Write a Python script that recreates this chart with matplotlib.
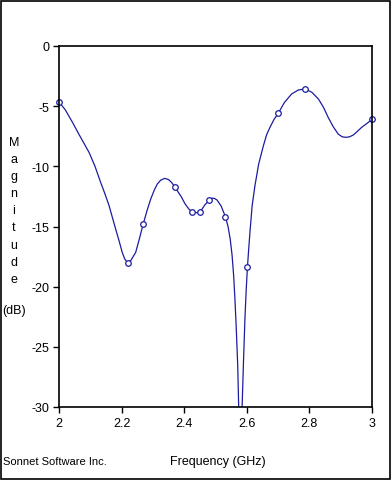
import matplotlib
matplotlib.use("Agg")
import matplotlib.pyplot as plt
from matplotlib.patches import Rectangle

plt.rcParams["font.family"] = ["Liberation Sans", "DejaVu Sans"]

# curve (GHz, dB)
freq = [2.000, 2.020, 2.043, 2.065, 2.096, 2.115, 2.133, 2.147, 2.160, 2.170,
        2.181, 2.192, 2.202, 2.210, 2.220, 2.230, 2.245, 2.257, 2.269, 2.281,
        2.293, 2.304, 2.314, 2.325, 2.338, 2.350, 2.360, 2.371, 2.390, 2.403,
        2.415, 2.426, 2.440, 2.452, 2.466, 2.480, 2.488, 2.496, 2.505, 2.518,
        2.532, 2.540, 2.547, 2.553, 2.558, 2.562, 2.566, 2.571, 2.575, 2.579,
        2.585, 2.589, 2.594, 2.598, 2.602, 2.606, 2.610, 2.617, 2.626, 2.638,
        2.653, 2.663, 2.674, 2.687, 2.701, 2.720, 2.743, 2.765, 2.787, 2.808,
        2.829, 2.845, 2.860, 2.876, 2.892, 2.905, 2.917, 2.928, 2.940, 2.953,
        2.967, 2.983, 3.000]
mag = [-4.65, -5.30, -6.34, -7.40, -8.84, -10.00, -11.33, -12.30, -13.27, -14.20,
       -15.21, -16.20, -17.15, -17.70, -18.04, -17.80, -17.15, -16.00, -14.80, -13.70,
       -12.72, -12.00, -11.47, -11.15, -11.00, -11.10, -11.35, -11.75, -12.50, -13.13,
       -13.55, -13.83, -13.85, -13.75, -13.20, -12.83, -12.65, -12.66, -12.80, -13.30,
       -14.21, -15.00, -16.04, -17.40, -19.09, -21.00, -23.25, -26.57, -31.0, -36.0,
       -30.0, -26.57, -22.70, -20.30, -18.40, -16.90, -15.49, -13.30, -11.61, -9.80,
       -8.29, -7.40, -6.76, -6.10, -5.57, -4.70, -3.99, -3.65, -3.57, -3.85,
       -4.41, -5.10, -5.93, -6.70, -7.32, -7.55, -7.59, -7.55, -7.40, -7.10,
       -6.76, -6.45, -6.10]

# simulated (marked) points
pt_freq = [2.000, 2.221, 2.269, 2.372, 2.426, 2.452, 2.480, 2.531, 2.602, 2.701, 2.787, 3.000]
pt_mag = [-4.65, -18.04, -14.82, -11.72, -13.83, -13.83, -12.83, -14.24, -18.40, -5.57, -3.60, -6.09]

xticks = [2, 2.2, 2.4, 2.6, 2.8, 3]
xtick_labels = ["2", "2.2", "2.4", "2.6", "2.8", "3"]
yticks = [0, -5, -10, -15, -20, -25, -30]
ylabel_chars = list("Magnitude")

color = "#1c1ca0"

fig = plt.figure(figsize=(3.92, 4.81), dpi=100)
ax = fig.add_axes([59/392, 1 - 408/481, (372 - 59)/392, (408 - 47)/481])

ax.plot(freq, mag, color=color, lw=0.9)
ax.plot(pt_freq, pt_mag, "o", ms=4, mfc="white", mec=color, mew=0.9, clip_on=False)

ax.set_xlim(2, 3)
ax.set_ylim(-30, 0)
ax.set_xticks(xticks)
ax.set_xticklabels(xtick_labels)
ax.set_yticks(yticks)
ax.set_yticklabels([str(v) for v in yticks])
ax.tick_params(direction="out", length=4, width=1, labelsize=9, pad=3, colors="black")
for s in ax.spines.values():
    s.set_linewidth(1.2)

# stacked vertical label
for i, ch in enumerate(ylabel_chars):
    fig.text(14/392, 1 - (143 + i*17.1)/481, ch, ha="center", va="center", fontsize=9)
fig.text(14/392, 1 - 311/481, "(dB)", ha="center", va="center", fontsize=9)

fig.text(218/392, 1 - 462/481, "Frequency (GHz)", ha="center", va="center", fontsize=9)
fig.text(3/392, 1 - 462/481, "Sonnet Software Inc.", ha="left", va="center", fontsize=8)

fig.patches.append(Rectangle((1/392, 1/481), 389/392, 478/481, transform=fig.transFigure,
                             fill=False, edgecolor="black", lw=1.2))

fig.savefig("out.png", dpi=100)
